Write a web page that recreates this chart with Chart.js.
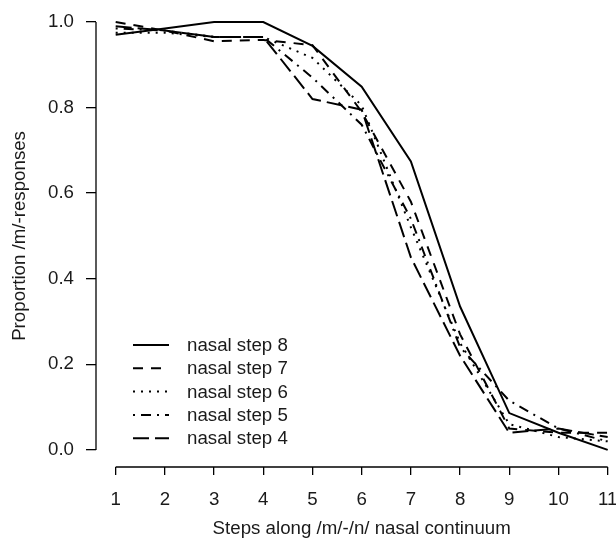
<!DOCTYPE html>
<html>
<head>
<meta charset="utf-8">
<script src="https://cdn.jsdelivr.net/npm/chart.js@4/dist/chart.umd.min.js"></script>
<style>
html,body{margin:0;padding:0;background:#fff;}
#c{display:block;}
</style>
</head>
<body>
<canvas id="c" width="616" height="539"></canvas>
<script>
// ---- data ----
const STEPS = [1, 2, 3, 4, 5, 6, 7, 8, 9, 10, 11];
const NASAL_STEP_8 = [0.970, 0.985, 1.000, 1.000, 0.944, 0.849, 0.674, 0.335, 0.086, 0.040, 0.000];
const NASAL_STEP_7 = [1.000, 0.980, 0.955, 0.958, 0.946, 0.790, 0.580, 0.270, 0.050, 0.040, 0.040];
const NASAL_STEP_6 = [0.975, 0.975, 0.965, 0.965, 0.916, 0.805, 0.520, 0.250, 0.060, 0.030, 0.020];
const NASAL_STEP_5 = [0.985, 0.980, 0.965, 0.965, 0.870, 0.760, 0.540, 0.240, 0.115, 0.050, 0.020];
const NASAL_STEP_4 = [0.990, 0.980, 0.965, 0.965, 0.820, 0.795, 0.450, 0.220, 0.040, 0.050, 0.030];
const SERIES_LABELS = ['nasal step 8', 'nasal step 7', 'nasal step 6', 'nasal step 5', 'nasal step 4'];
const X_TICKS = [1, 2, 3, 4, 5, 6, 7, 8, 9, 10, 11];
const Y_TICKS = [0.0, 0.2, 0.4, 0.6, 0.8, 1.0];
const X_TITLE = 'Steps along /m/-/n/ nasal continuum';
const Y_TITLE = 'Proportion /m/-responses';

const FONT = '"Liberation Sans", Arial, Helvetica, sans-serif';
const FS = 18.7;
const TXT = '#1a1a1a';

const seriesValues = [NASAL_STEP_8, NASAL_STEP_7, NASAL_STEP_6, NASAL_STEP_5, NASAL_STEP_4];
const dashes = [[], [10, 8], [2, 6], [2, 6, 10, 6], [16, 6]];

const datasets = seriesValues.map((vals, i) => ({
  label: SERIES_LABELS[i],
  data: STEPS.map((s, k) => ({x: s, y: vals[k]})),
  borderColor: '#000',
  borderWidth: 2,
  borderDash: dashes[i],
  pointRadius: 0,
  tension: 0,
  fill: false
}));

const rAxes = {
  id: 'rAxes',
  afterDraw(chart) {
    const {ctx, chartArea} = chart;
    const x = chart.scales.x, y = chart.scales.y;
    ctx.save();
    ctx.strokeStyle = '#000';
    ctx.lineWidth = 1.3;
    ctx.setLineDash([]);
    // y axis line (0..1)
    ctx.beginPath();
    ctx.moveTo(chartArea.left, y.getPixelForValue(Y_TICKS[0]));
    ctx.lineTo(chartArea.left, y.getPixelForValue(Y_TICKS[Y_TICKS.length - 1]));
    ctx.stroke();
    // x axis line (1..11)
    ctx.beginPath();
    ctx.moveTo(x.getPixelForValue(X_TICKS[0]), chartArea.bottom);
    ctx.lineTo(x.getPixelForValue(X_TICKS[X_TICKS.length - 1]), chartArea.bottom);
    ctx.stroke();

    // axis titles
    ctx.fillStyle = TXT;
    ctx.font = FS + 'px ' + FONT;
    ctx.textAlign = 'center';
    ctx.textBaseline = 'middle';
    ctx.fillText(X_TITLE, x.getPixelForValue(6), 529);
    ctx.save();
    ctx.translate(20, y.getPixelForValue(0.5));
    ctx.rotate(-Math.PI / 2);
    ctx.fillText(Y_TITLE, 0, 0);
    ctx.restore();

    // legend (no box, bottom-left inside plot)
    const rows = [345, 368.3, 391.6, 414.9, 438.2];
    chart.data.datasets.forEach((ds, i) => {
      const ry = rows[i];
      ctx.save();
      ctx.strokeStyle = '#000';
      ctx.lineWidth = 2;
      ctx.setLineDash(ds.borderDash);
      ctx.beginPath();
      ctx.moveTo(133, ry);
      ctx.lineTo(169, ry);
      ctx.stroke();
      ctx.restore();
      ctx.fillStyle = TXT;
      ctx.font = FS + 'px ' + FONT;
      ctx.textAlign = 'left';
      ctx.textBaseline = 'middle';
      ctx.fillText(ds.label, 187, ry + 1);
    });
    ctx.restore();
  }
};

new Chart(document.getElementById('c'), {
  type: 'line',
  data: {datasets},
  options: {
    responsive: false,
    animation: false,
    devicePixelRatio: 1,
    layout: {padding: 0},
    plugins: {legend: {display: false}, tooltip: {enabled: false}},
    scales: {
      x: {
        type: 'linear',
        min: 0.6,
        max: 11.169,
        afterBuildTicks: (s) => { s.ticks = X_TICKS.map(v => ({value: v})); },
        afterFit: (s) => { s.height = 72; s.paddingLeft = 0; s.paddingRight = 0; },
        border: {display: false},
        grid: {display: true, drawOnChartArea: false, drawTicks: true, tickLength: 8, color: '#000', lineWidth: 1.3},
        ticks: {
          autoSkip: false, maxRotation: 0, minRotation: 0, padding: 14,
          color: TXT, font: {family: FONT, size: FS},
          callback: (v) => String(v)
        }
      },
      y: {
        type: 'linear',
        min: -0.04,
        max: 1.0514,
        afterBuildTicks: (s) => { s.ticks = Y_TICKS.map(v => ({value: v})); },
        afterFit: (s) => { s.width = 96; s.paddingTop = 0; s.paddingBottom = 0; },
        border: {display: false},
        grid: {display: true, drawOnChartArea: false, drawTicks: true, tickLength: 10, color: '#000', lineWidth: 1.3},
        ticks: {
          autoSkip: false, padding: 12,
          color: TXT, font: {family: FONT, size: FS},
          callback: (v) => Number(v).toFixed(1)
        }
      }
    }
  },
  plugins: [rAxes]
});
</script>
</body>
</html>
